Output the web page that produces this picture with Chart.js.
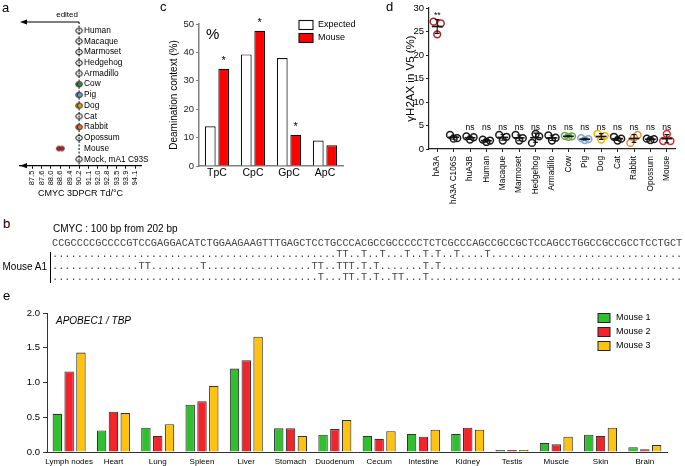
<!DOCTYPE html>
<html><head><meta charset="utf-8">
<script src="https://cdn.jsdelivr.net/npm/chart.js@4.4.1/dist/chart.umd.min.js"></script>
<style>
body{margin:0;width:685px;height:466px;position:relative;background:#fff;overflow:hidden;font-family:"Liberation Sans",Arial,sans-serif;color:#000}
canvas{position:absolute}
.pl{position:absolute;font-size:13px;line-height:13px}
.t{position:absolute;white-space:pre}
</style></head>
<body>
<canvas id="ca" width="170" height="210" style="left:0;top:0"></canvas>
<canvas id="cc" width="220" height="200" style="left:160px;top:0"></canvas>
<canvas id="cd" width="305" height="240" style="left:380px;top:0"></canvas>
<canvas id="ce" width="685" height="174" style="left:0;top:296px"></canvas>
<div class="pl" style="left:2px;top:1px">a</div>
<div class="pl" style="left:160px;top:0px">c</div>
<div class="pl" style="left:386px;top:0px">d</div>
<div class="pl" style="left:3px;top:217px">b</div>
<div class="pl" style="left:3px;top:289px">e</div>
<div class="t" style="left:53px;top:223px;font-size:10px">CMYC : 100 bp from 202 bp</div>
<div class="t" style="left:2px;top:261px;font-size:10px;width:45px;text-align:right">Mouse A1</div>
<div style="position:absolute;left:50px;top:252px;width:1px;height:31px;background:#000"></div>
<pre id="seq" class="t" style="left:52px;top:237.5px;margin:0;font-family:'Liberation Mono',monospace;font-size:10.3px;line-height:11.6px;color:#444"></pre>
<script>
// ---------- Panel a data ----------
const aTemps = ['87.5','87.6','88.0','88.6','89.4','90.2','91.1','92.0','92.8','93.5','93.9','94.1'];
const aSpecies = ['Human','Macaque','Marmoset','Hedgehog','Armadillo','Cow','Pig','Dog','Cat','Rabbit','Opossum','Mouse','Mock, mA1 C93S'];
const aLastTd = ['90.2','90.2','90.2','90.2','90.2','90.2','90.2','90.2','90.2','90.2','90.2','88.6','90.2'];
const aRefTd = '90.2';
const aColors = [null,null,null,null,null,'#3d8b37','#7497cf','#dba514',null,'#e5762a',null,'#e8141b',null];

// ---------- Panel c data ----------
const cContexts = ['TpC','CpC','GpC','ApC'];
const cExpected = [14.0, 39.3, 38.0, 9.0];
const cMouse = [34.2, 47.6, 11.0, 7.3];
const cStars = ['*','*','*',''];

// ---------- Panel d data ----------
const dCats = ['hA3A','hA3A C106S','huA3B','Human','Macaque','Marmoset','Hedgehog','Armadillo','Cow','Pig','Dog','Cat','Rabbit','Opossum','Mouse'];
const dRepL = [27.1, 3.0, 2.7, 2.0, 3.0, 3.0, 1.3, 2.9, 2.8, 2.3, 3.2, 2.6, 1.3, 2.2, 1.7];
const dRepC = [24.4, 2.2, 2.0, 1.5, 1.8, 1.8, 3.2, 1.8, 2.6, 1.9, 2.0, 1.8, 2.4, 1.9, 3.2];
const dRepR = [26.7, 2.3, 2.5, 1.8, 2.6, 2.3, 2.7, 2.4, 2.7, 2.1, 2.8, 2.2, 3.0, 2.1, 1.7];
const dSig = ['**','','ns','ns','ns','ns','ns','ns','ns','ns','ns','ns','ns','ns','ns'];
const dColors = ['#a8262a','#1a1a1a','#1a1a1a','#1a1a1a','#1a1a1a','#1a1a1a','#1a1a1a','#1a1a1a','#69a84a','#7ea6dc','#f0b400','#1a1a1a','#f08a3c','#1a1a1a','#e8231f'];

// ---------- Panel b data ----------
const bSeq = 'CCGCCCCGCCCCGTCCGAGGACATCTGGAAGAAGTTTGAGCTCCTGCCCACGCCGCCCCCTCTCGCCCAGCCGCCGCTCCAGCCTGGCCGCCGCCTCCTGCT';
const bClone1 = [47,48,51,54,58,61,63,66,71];
const bClone2 = [15,16,25,43,44,47,48,49,51,53,61,63];
const bClone3 = [44,48,49,51,53,56,57,61];

// ---------- Panel e data ----------
const eTissues = ['Lymph nodes','Heart','Lung','Spleen','Liver','Stomach','Duodenum','Cecum','Intestine','Kidney','Testis','Muscle','Skin','Brain'];
const eMouse1 = [0.55, 0.31, 0.35, 0.68, 1.20, 0.34, 0.25, 0.23, 0.26, 0.26, 0.01, 0.13, 0.25, 0.07];
const eMouse2 = [1.16, 0.58, 0.23, 0.73, 1.32, 0.34, 0.33, 0.19, 0.22, 0.35, 0.015, 0.11, 0.23, 0.04];
const eMouse3 = [1.43, 0.56, 0.40, 0.95, 1.66, 0.23, 0.46, 0.30, 0.32, 0.32, 0.02, 0.22, 0.35, 0.10];
const eTicks = [0, 0.5, 1.0, 1.5, 2.0];

// ---------- panel b text ----------
(function(){
  const row = cl => Array.from(bSeq).map((ch,k)=>cl.includes(k+1)?'T':'.').join('');
  document.getElementById('seq').textContent = [bSeq, row(bClone1), row(bClone2), row(bClone3)].join('\n');
})();

const FF = "'Liberation Sans', Arial, sans-serif";
Chart.defaults.font.family = FF;
Chart.defaults.color = '#000';
Chart.defaults.animation = false;
Chart.defaults.responsive = false;
Chart.defaults.plugins.legend.display = false;
Chart.defaults.plugins.tooltip.enabled = false;

function arrowHead(ctx, x, y){
  ctx.beginPath(); ctx.moveTo(x, y); ctx.lineTo(x+7, y-2.6); ctx.lineTo(x+7, y+2.6); ctx.closePath(); ctx.fill();
}
function pairMarker(fill, r, sep){
  const c = document.createElement('canvas');
  const w = Math.ceil(2*r+sep+3), h = Math.ceil(2*r+3);
  c.width = w; c.height = h;
  const g = c.getContext('2d');
  g.lineWidth = 1;
  if (!fill) {
    g.strokeStyle = '#000';
    g.beginPath(); g.ellipse(w/2, h/2, r+sep/2, r, 0, 0, Math.PI*2); g.stroke();
    return c;
  }
  g.strokeStyle = '#333';
  [w/2-sep/2, w/2+sep/2].forEach(cx=>{
    g.beginPath(); g.arc(cx, h/2, r, 0, Math.PI*2);
    g.fillStyle = fill; g.fill(); g.stroke();
  });
  return c;
}

// ---------- Panel a ----------
const aDeco = {
  id:'aDeco',
  beforeDatasetsDraw(chart){
    const {ctx, chartArea:ca, scales:{x,y}} = chart;
    const cx = x.getPixelForValue(aTemps.indexOf(aRefTd));
    ctx.save();
    ctx.strokeStyle = '#000'; ctx.fillStyle = '#000';
    ctx.lineWidth = 1; ctx.setLineDash([2,1.6]);
    ctx.beginPath(); ctx.moveTo(cx, ca.top); ctx.lineTo(cx, ca.bottom); ctx.stroke();
    ctx.setLineDash([]);
    ctx.lineWidth = 1.2;
    ctx.beginPath(); ctx.moveTo(cx, ca.top); ctx.lineTo(ca.left+5, ca.top); ctx.stroke();
    arrowHead(ctx, ca.left, ca.top);
    arrowHead(ctx, ca.left, ca.bottom);
    ctx.font = '8px ' + FF; ctx.textAlign = 'center'; ctx.textBaseline = 'middle';
    ctx.fillText('edited', cx - 12, ca.top - 7);
    ctx.textAlign = 'left'; ctx.font = '8.3px ' + FF;
    aSpecies.forEach((s,i)=> ctx.fillText(s, cx + 5, y.getPixelForValue(i)));
    ctx.restore();
  }
};
new Chart(document.getElementById('ca'), {
  type:'scatter',
  data:{datasets:[{
    data: aSpecies.map((s,i)=>({x: aTemps.indexOf(aLastTd[i]), y: i})),
    pointStyle: aSpecies.map((s,i)=> pairMarker(aColors[i], i===11?2.3:2.5, i===11?3.2:1.6)),
  }]},
  options:{
    layout:{padding:{left:20, right:29, top:22, bottom:0}},
    scales:{
      x:{type:'linear', min:-1.3, max:11.6,
        afterBuildTicks: s => { s.ticks = aTemps.map((t,i)=>({value:i})); },
        ticks:{callback:v=>aTemps[v], minRotation:90, maxRotation:90, autoSkip:false, font:{size:7.5}, padding:2},
        grid:{drawOnChartArea:false, tickLength:3, tickColor:'#000', tickWidth:1},
        border:{color:'#000', width:1.2},
        title:{display:true, text:'CMYC 3DPCR Td/°C', font:{size:9}, padding:{top:0, bottom:10.6}},
        afterFit: s => { s.height = 44.3; }
      },
      y:{type:'linear', reverse:true, min:-0.8, max:12.6, display:false}
    }
  },
  plugins:[aDeco]
});

// ---------- Panel c ----------
const cDeco = {
  id:'cDeco',
  afterDatasetsDraw(chart){
    const {ctx, chartArea:ca} = chart;
    const meta = chart.getDatasetMeta(1);
    ctx.save();
    ctx.fillStyle = '#000'; ctx.textAlign = 'center'; ctx.textBaseline = 'middle';
    ctx.font = '11px ' + FF;
    meta.data.forEach((b,i)=>{ if (cStars[i]) ctx.fillText(cStars[i], b.x, b.y - 8); });
    ctx.font = '15px ' + FF; ctx.textAlign = 'left';
    ctx.fillText('%', ca.left + 7, ca.top + 11);
    ctx.font = '9px ' + FF; ctx.lineWidth = 1.1; ctx.strokeStyle = '#111';
    chart.data.datasets.forEach((ds,k)=>{
      const ly = ca.top + 1 + k*13;
      ctx.fillStyle = ds.backgroundColor; ctx.fillRect(ca.left+100, ly-4.5, 14, 9);
      ctx.strokeRect(ca.left+100, ly-4.5, 14, 9);
      ctx.fillStyle = '#000'; ctx.fillText(ds.label, ca.left+119, ly);
    });
    ctx.restore();
  }
};
new Chart(document.getElementById('cc'), {
  type:'bar',
  data:{labels:cContexts, datasets:[
    {label:'Expected', data:cExpected, backgroundColor:'#ffffff', borderColor:'#111', borderWidth:1.2},
    {label:'Mouse', data:cMouse, backgroundColor:'#ff0000', borderColor:'#111', borderWidth:1.2}
  ]},
  options:{
    layout:{padding:{left:0, right:37, top:24, bottom:0}},
    datasets:{bar:{categoryPercentage:0.75, barPercentage:0.8}},
    scales:{
      x:{grid:{display:false, drawTicks:false}, border:{color:'#808080', width:1.5}, ticks:{font:{size:10.5}, padding:1},
         afterFit: s => { s.height = 34; }},
      y:{min:0, max:50, ticks:{stepSize:10, font:{size:9.5}, padding:2, color:'#222'},
         grid:{drawOnChartArea:false, tickLength:3, tickColor:'#808080', tickWidth:1.2},
         border:{color:'#808080', width:1.5},
         title:{display:true, text:'Deamination context (%)', font:{size:10}, padding:{top:8, bottom:0}},
         afterFit: s => { s.width = 39; }}
    }
  },
  plugins:[cDeco]
});

// ---------- Panel d ----------
const dJit = [-0.22, 0, 0.22];
const dDeco = {
  id:'dDeco',
  afterDatasetsDraw(chart){
    const {ctx, scales:{x,y}} = chart;
    ctx.save();
    ctx.strokeStyle = '#111'; ctx.fillStyle = '#000';
    ctx.textAlign = 'center'; ctx.textBaseline = 'bottom'; ctx.font = '8.5px ' + FF;
    dCats.forEach((c,i)=>{
      const vals = [dRepL[i], dRepC[i], dRepR[i]];
      const m = vals.reduce((a,b)=>a+b,0)/3;
      const sd = Math.sqrt(vals.reduce((a,b)=>a+(b-m)*(b-m),0)/2);
      const cx = x.getPixelForValue(i);
      const hw = x.getPixelForValue(i+0.33) - cx;
      const cw = x.getPixelForValue(i+0.14) - cx;
      const ym = y.getPixelForValue(m);
      ctx.lineWidth = 1.6;
      ctx.beginPath(); ctx.moveTo(cx-hw, ym); ctx.lineTo(cx+hw, ym); ctx.stroke();
      ctx.lineWidth = 1.1;
      const yt = y.getPixelForValue(m+sd), yb = y.getPixelForValue(m-sd);
      ctx.beginPath();
      ctx.moveTo(cx, yt); ctx.lineTo(cx, yb);
      ctx.moveTo(cx-cw, yt); ctx.lineTo(cx+cw, yt);
      ctx.moveTo(cx-cw, yb); ctx.lineTo(cx+cw, yb);
      ctx.stroke();
      if (dSig[i]) {
        const top = Math.max(Math.max(...vals), 3.2);
        ctx.fillText(dSig[i], cx, y.getPixelForValue(top) - 2);
      }
    });
    ctx.restore();
  }
};
new Chart(document.getElementById('cd'), {
  type:'scatter',
  data:{datasets:[dRepL, dRepC, dRepR].map((arr,k)=>({
    data: arr.map((v,i)=>({x: i + dJit[k], y: v})),
    pointRadius: 3.4, pointBorderWidth: 1.5,
    pointBorderColor: dColors, pointBackgroundColor: 'rgba(255,255,255,0)'
  }))},
  options:{
    layout:{padding:{left:0, right:10, top:8, bottom:0}},
    scales:{
      x:{type:'linear', min:-0.5, max:14.5,
        afterBuildTicks: s => { s.ticks = dCats.map((c,i)=>({value:i})); },
        ticks:{callback:v=>dCats[v], minRotation:90, maxRotation:90, autoSkip:false, font:{size:8.3}, padding:4},
        grid:{drawOnChartArea:false, tickLength:3, tickColor:'#222'},
        border:{color:'#222', width:1.2},
        afterFit: s => { s.height = 91; }
      },
      y:{min:0, max:30, ticks:{stepSize:5, font:{size:9.5}, padding:2},
        grid:{drawOnChartArea:false, tickLength:3, tickColor:'#222'},
        border:{color:'#222', width:1.2},
        title:{display:true, text:'γH2AX in V5 (%)', font:{size:11.5}, padding:{top:24, bottom:0}},
        afterFit: s => { s.width = 49; }
      }
    }
  },
  plugins:[dDeco]
});

// ---------- Panel e ----------
const eDeco = {
  id:'eDeco',
  afterDraw(chart){
    const {ctx, chartArea:ca} = chart;
    ctx.save();
    ctx.font = 'italic 10px ' + FF; ctx.fillStyle = '#000'; ctx.textBaseline = 'middle';
    ctx.fillText('APOBEC1 / TBP', 56, ca.top + 8);
    ctx.font = '9px ' + FF; ctx.lineWidth = 1; ctx.strokeStyle = '#222';
    chart.data.datasets.forEach((ds,k)=>{
      const ly = ca.top + 5 + k*14;
      ctx.fillStyle = ds.backgroundColor; ctx.fillRect(598, ly-4.5, 12, 9);
      ctx.strokeRect(598, ly-4.5, 12, 9);
      ctx.fillStyle = '#000'; ctx.fillText(ds.label, 616, ly);
    });
    ctx.restore();
  }
};
new Chart(document.getElementById('ce'), {
  type:'bar',
  data:{labels:eTissues, datasets:[
    {label:'Mouse 1', data:eMouse1, backgroundColor:'#2fbf2f'},
    {label:'Mouse 2', data:eMouse2, backgroundColor:'#f2232a'},
    {label:'Mouse 3', data:eMouse3, backgroundColor:'#ffc20e'}
  ]},
  options:{
    layout:{padding:{left:0, right:18, top:17, bottom:0}},
    datasets:{bar:{categoryPercentage:0.8, barPercentage:0.8, borderColor:'#333', borderWidth:1.1, minBarLength:2}},
    scales:{
      x:{grid:{display:false, drawTicks:false}, border:{color:'#333', width:1}, ticks:{font:{size:8}, padding:5, autoSkip:false, maxRotation:0},
         afterFit: s => { s.height = 18; }},
      y:{min:0, max:2,
         afterBuildTicks: s => { s.ticks = eTicks.map(v=>({value:v})); },
         ticks:{callback:v=>v.toFixed(1), font:{size:9.5}, padding:3},
         grid:{drawOnChartArea:false, tickLength:4, tickColor:'#333'},
         border:{color:'#333', width:1},
         afterFit: s => { s.width = 47; }}
    }
  },
  plugins:[eDeco]
});
</script>
</body></html>
